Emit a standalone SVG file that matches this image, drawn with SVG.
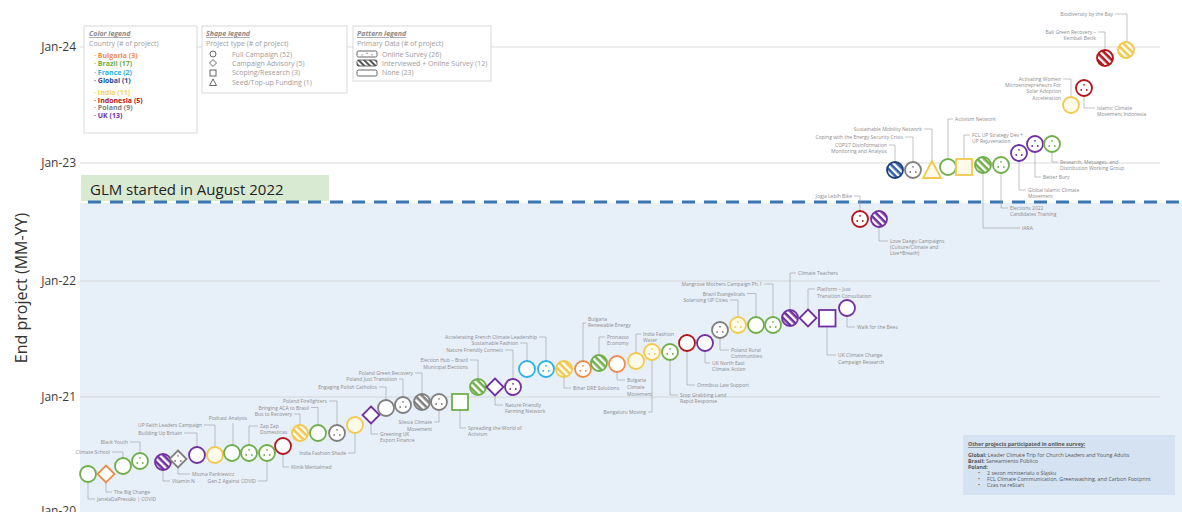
<svg xmlns="http://www.w3.org/2000/svg" xmlns:xlink="http://www.w3.org/1999/xlink" width="1182" height="512" viewBox="0 0 1182 512">
<style>
text{font-family:"Open Sans","Liberation Sans",sans-serif}
.lbl{font-size:5px;fill:#8c8c8c}
.ld{fill:none;stroke:#9a9a9a;stroke-width:0.6}
.grid{stroke:#d2d2d2;stroke-width:0.8}
.axis{font-size:12px;fill:#3c3c3c;text-anchor:end}
.s{fill:#fff;stroke:currentColor;stroke-width:1.8}
.br{color:#6fae4a}.bg{color:#ef8c4b}.fr{color:#2bb3e6}.gl{color:#1d3e78}
.in{color:#f2c94c}.id{color:#b3151d}.pl{color:#7f7f7f}.uk{color:#7030a0}
.in .s{fill:#fffbea}
.st-br{fill:url(#st-br)!important}.st-gl{fill:url(#st-gl)!important}.st-in{fill:url(#st-in)!important}
.st-id{fill:url(#st-id)!important}.st-pl{fill:url(#st-pl)!important}.st-uk{fill:url(#st-uk)!important}
.lgbox{fill:#fff;stroke:#cfcfcf;stroke-width:0.8}
.lgt{font-size:7px;fill:#8a8a8a;font-style:italic;font-weight:bold;text-decoration:underline}
.lgs{font-size:7px;fill:#9c9c9c}
.lgc{font-size:7px;font-weight:bold}
.ico{fill:#fff;stroke:#555;stroke-width:0.9}
.oth{font-size:5.3px;fill:#555}
</style>
<defs>
<g id="dots" fill="currentColor"><circle cx="0" cy="-3.2" r="0.9"/><circle cx="-2.8" cy="2" r="0.9"/><circle cx="2.8" cy="2" r="0.9"/></g>
<path id="dia" d="M0,-8.5L8.5,0L0,8.5L-8.5,0Z"/>
<pattern id="st-br" width="5" height="5" patternUnits="userSpaceOnUse" patternTransform="rotate(45)"><rect width="5" height="5" fill="#fff"/><rect width="5" height="2.6" fill="#6fae4a"/></pattern>
<pattern id="st-gl" width="5" height="5" patternUnits="userSpaceOnUse" patternTransform="rotate(45)"><rect width="5" height="5" fill="#fff"/><rect width="5" height="2.6" fill="#2f5fa8"/></pattern>
<pattern id="st-in" width="5" height="5" patternUnits="userSpaceOnUse" patternTransform="rotate(45)"><rect width="5" height="5" fill="#fff"/><rect width="5" height="2.6" fill="#f2c94c"/></pattern>
<pattern id="st-id" width="5" height="5" patternUnits="userSpaceOnUse" patternTransform="rotate(45)"><rect width="5" height="5" fill="#fff"/><rect width="5" height="2.6" fill="#b3151d"/></pattern>
<pattern id="st-pl" width="5" height="5" patternUnits="userSpaceOnUse" patternTransform="rotate(45)"><rect width="5" height="5" fill="#fff"/><rect width="5" height="2.6" fill="#7f7f7f"/></pattern>
<pattern id="st-uk" width="5" height="5" patternUnits="userSpaceOnUse" patternTransform="rotate(45)"><rect width="5" height="5" fill="#fff"/><rect width="5" height="2.6" fill="#7030a0"/></pattern>
<pattern id="st-lg" width="4" height="4" patternUnits="userSpaceOnUse" patternTransform="rotate(45)"><rect width="4" height="4" fill="#fff"/><rect width="4" height="2" fill="#555"/></pattern>
</defs>
<rect width="1182" height="512" fill="#fff"/>
<rect x="80" y="203" width="1102" height="309" fill="#e7eff9"/>
<g id="axis">
<line class="grid" x1="80" y1="47" x2="1160" y2="47"/>
<line class="grid" x1="80" y1="163" x2="1160" y2="163"/>
<line class="grid" x1="80" y1="281" x2="1160" y2="281"/>
<line class="grid" x1="80" y1="397" x2="1160" y2="397"/>
<text class="axis" x="76" y="51">Jan-24</text>
<text class="axis" x="76" y="167">Jan-23</text>
<text class="axis" x="76" y="285">Jan-22</text>
<text class="axis" x="76" y="401">Jan-21</text>
<text class="axis" x="76" y="515">Jan-20</text>
<text x="0" y="0" transform="translate(27,288) rotate(-90)" text-anchor="middle" style="font-size:16px;fill:#333">End project (MM-YY)</text>
</g>
<g id="glm">
<rect x="81" y="175" width="248" height="26" fill="#d9ead3"/>
<text x="90" y="195" style="font-size:15px;fill:#222">GLM started in August 2022</text>
<line x1="88" y1="202" x2="1182" y2="202" stroke="#3b76b4" stroke-width="3" stroke-dasharray="13 9"/>
</g>
<g id="color-legend">
<rect class="lgbox" x="84" y="26" width="113" height="107"/>
<text class="lgt" x="89" y="36">Color legend</text>
<text class="lgs" x="89" y="46">Country (# of project)</text>
<g class="lgc">
<text x="94" y="57.5" fill="#ef8c4b">·  Bulgaria (3)</text>
<text x="94" y="65.5" fill="#6fae4a">·  Brazil (17)</text>
<text x="94" y="74.5" fill="#2bb3e6">·  France (2)</text>
<text x="94" y="82.5" fill="#1d4f9a">·  Global (1)</text>
<text x="94" y="94.5" fill="#f5cf5a">·  India (11)</text>
<text x="94" y="102.5" fill="#b3151d">·  Indonesia (5)</text>
<text x="94" y="110" fill="#7f7f7f">·  Poland (9)</text>
<text x="94" y="118" fill="#7030a0">·  UK (13)</text>
</g>
</g>
<g id="shape-legend">
<rect class="lgbox" x="202" y="26" width="145" height="67"/>
<text class="lgt" x="206" y="36">Shape legend</text>
<text class="lgs" x="206" y="46">Project type (# of project)</text>
<circle class="ico" cx="213" cy="54" r="3"/>
<path class="ico" d="M213,59.5L216.5,63L213,66.5L209.5,63Z"/>
<rect class="ico" x="210" y="70" width="6" height="6"/>
<path class="ico" d="M213,79L216.5,85.5L209.5,85.5Z"/>
<text class="lgs" x="232" y="56.5">Full Campaign (52)</text>
<text class="lgs" x="232" y="65.5">Campaign Advisory (5)</text>
<text class="lgs" x="232" y="75">Scoping/Research (3)</text>
<text class="lgs" x="232" y="84.5">Seed/Top-up Funding (1)</text>
</g>
<g id="pattern-legend">
<rect class="lgbox" x="353" y="26" width="138" height="55"/>
<text class="lgt" x="357" y="36">Pattern legend</text>
<text class="lgs" x="357" y="46">Primary Data (# of project)</text>
<rect class="ico" x="357" y="51" width="20" height="6" rx="1.5"/>
<circle cx="362" cy="54.8" r="0.6" fill="#555"/><circle cx="367" cy="53.2" r="0.6" fill="#555"/><circle cx="372" cy="54.8" r="0.6" fill="#555"/>
<rect x="357" y="60" width="20" height="6" rx="1.5" fill="url(#st-lg)" stroke="#555" stroke-width="0.9"/>
<rect class="ico" x="357" y="70" width="20" height="6" rx="1.5"/>
<text class="lgs" x="382" y="56.5">Online Survey (26)</text>
<text class="lgs" x="382" y="65.5">Interviewed + Online Survey (12)</text>
<text class="lgs" x="382" y="75">None (23)</text>
</g>
<g id="connectors" class="ld">
<path d="M88,482V499H95"/>
<path d="M106,482.5V492H112"/>
<path d="M112,452H123V458"/>
<path d="M130,442H140V453"/>
<path d="M163,470V481H170"/>
<path d="M178,467.5V474H190"/>
<path d="M184,433H197V447"/>
<path d="M204,425H215V447"/>
<path d="M233,423V445"/>
<path d="M249,445V426H258"/>
<path d="M258,481H267V461"/>
<path d="M283,454V467H289"/>
<path d="M294,414H300V425"/>
<path d="M311,407.5H318V425"/>
<path d="M329,401H337V425"/>
<path d="M348,453H355V433"/>
<path d="M371,423.5V434H378"/>
<path d="M379,387H386V400"/>
<path d="M399,379H403V397"/>
<path d="M415,373H422V394"/>
<path d="M439,410V422H434"/>
<path d="M460,410V428H466"/>
<path d="M470,360H478V379"/>
<path d="M495,395.5V405H503"/>
<path d="M505,350H513V379"/>
<path d="M520,343H527V361"/>
<path d="M539,337H546V361"/>
<path d="M564,377V388H571"/>
<path d="M583,361V323H586"/>
<path d="M599,355V337H605"/>
<path d="M617,372V380H625"/>
<path d="M636,353V334H641"/>
<path d="M652,360V412H648"/>
<path d="M670,360V395H678"/>
<path d="M687,351V385H695"/>
<path d="M705,351V363H710"/>
<path d="M720,338V350H729"/>
<path d="M730,300H738V317"/>
<path d="M747,293.5H756V317"/>
<path d="M764,284H773V317"/>
<path d="M790,310V273H796"/>
<path d="M808,309.5V289H815"/>
<path d="M827,326.5V355H836"/>
<path d="M847,316V327H855"/>
<path d="M854,196H860V211"/>
<path d="M879,227V241H888"/>
<path d="M889,145H895V162"/>
<path d="M905,137H913V162"/>
<path d="M924,129H932V161"/>
<path d="M948,159V119H953"/>
<path d="M964,159V135H970"/>
<path d="M983,173V228H1020"/>
<path d="M1001,173V208H1008"/>
<path d="M1019,161V190H1026"/>
<path d="M1035,152V177H1041"/>
<path d="M1052,152V162H1058"/>
<path d="M1063,79H1071V97"/>
<path d="M1084,96V108H1095"/>
<path d="M1098,32H1105V50"/>
<path d="M1115,14H1127V42"/>
</g>
<g id="nodes">
<g id="n01" class="br"><circle class="s" cx="88" cy="474" r="8"/><text class="lbl" x="97" y="501">JanelaDaPressão | COVID</text></g>
<g id="n02" class="bg"><use href="#dia" class="s" x="106" y="474"/><text class="lbl" x="114" y="494">The Big Change</text></g>
<g id="n03" class="br"><circle class="s" cx="123" cy="466" r="8"/><text class="lbl" x="110" y="454" text-anchor="end">Climate School</text></g>
<g id="n04" class="br"><circle class="s" cx="140" cy="461" r="8"/><use href="#dots" x="140" y="461"/><text class="lbl" x="128" y="444" text-anchor="end">Black Youth</text></g>
<g id="n05" class="uk"><circle class="s st-uk" cx="163" cy="462" r="8"/><text class="lbl" x="172" y="483">Vitamin N</text></g>
<g id="n06" class="pl"><use href="#dia" class="s" x="178" y="459"/><use href="#dots" x="178" y="459"/><text class="lbl" x="192" y="476">Mozna Pankiewicz</text></g>
<g id="n07" class="uk"><circle class="s" cx="197" cy="455" r="8"/><text class="lbl" x="182" y="435" text-anchor="end">Building Up Britain</text></g>
<g id="n08" class="in"><circle class="s" cx="215" cy="455" r="8"/><text class="lbl" x="202" y="427" text-anchor="end">UP Faith Leaders Campaign</text></g>
<g id="n09" class="br"><circle class="s" cx="232" cy="453" r="8"/><text class="lbl" x="228" y="420" text-anchor="middle">Podcast Analysis</text></g>
<g id="n10" class="br"><circle class="s" cx="249" cy="453" r="8"/><use href="#dots" x="249" y="453"/><text class="lbl" x="260" y="428">Zap Zap</text><text class="lbl" x="260" y="434">Domesticas</text></g>
<g id="n11" class="br"><circle class="s" cx="267" cy="453" r="8"/><use href="#dots" x="267" y="453"/><text class="lbl" x="256" y="483" text-anchor="end">Gen Z Against COVID</text></g>
<g id="n12" class="id"><circle class="s" cx="283" cy="446" r="8"/><text class="lbl" x="291" y="469">Klinik Mentalmed</text></g>
<g id="n13" class="in"><circle class="s st-in" cx="300" cy="433" r="8"/><text class="lbl" x="292" y="416" text-anchor="end">Bus to Recovery</text></g>
<g id="n14" class="br"><circle class="s" cx="318" cy="433" r="8"/><text class="lbl" x="309" y="409.5" text-anchor="end">Bringing ACA to Brasil</text></g>
<g id="n15" class="pl"><circle class="s" cx="337" cy="433" r="8"/><use href="#dots" x="337" y="433"/><text class="lbl" x="327" y="403" text-anchor="end">Poland Firefighters</text></g>
<g id="n16" class="in"><circle class="s" cx="355" cy="425" r="8"/><text class="lbl" x="346" y="455" text-anchor="end">India Fashion Shade</text></g>
<g id="n17" class="uk"><use href="#dia" class="s" x="371" y="415"/><text class="lbl" x="380" y="436">Greening UK</text><text class="lbl" x="380" y="442">Export Finance</text></g>
<g id="n18" class="pl"><circle class="s" cx="386" cy="408" r="8"/><text class="lbl" x="377" y="389" text-anchor="end">Engaging Polish Catholics</text></g>
<g id="n19" class="pl"><circle class="s" cx="403" cy="405" r="8"/><use href="#dots" x="403" y="405"/><text class="lbl" x="397" y="381" text-anchor="end">Poland Just Transition</text></g>
<g id="n20" class="pl"><circle class="s st-pl" cx="422" cy="402" r="8"/><text class="lbl" x="413" y="375" text-anchor="end">Poland Green Recovery</text></g>
<g id="n21" class="pl"><circle class="s" cx="439" cy="402" r="8"/><use href="#dots" x="439" y="402"/><text class="lbl" x="432" y="424" text-anchor="end">Silesia Climate</text><text class="lbl" x="432" y="431" text-anchor="end">Movement</text></g>
<g id="n22" class="br"><rect class="s" x="452" y="394" width="16" height="16"/><text class="lbl" x="468" y="430">Spreading the World of</text><text class="lbl" x="468" y="436">Activism</text></g>
<g id="n23" class="br"><circle class="s st-br" cx="478" cy="387" r="8"/><text class="lbl" x="468" y="362" text-anchor="end">Election Hub – Brazil</text><text class="lbl" x="468" y="369" text-anchor="end">Municipal Elections</text></g>
<g id="n24" class="uk"><use href="#dia" class="s" x="495" y="387"/><text class="lbl" x="505" y="407">Nature Friendly</text><text class="lbl" x="505" y="413">Farming Network</text></g>
<g id="n25" class="uk"><circle class="s" cx="513" cy="387" r="8"/><use href="#dots" x="513" y="387"/><text class="lbl" x="503" y="352" text-anchor="end">Nature Friendly Connect</text></g>
<g id="n26" class="fr"><circle class="s" cx="527" cy="369" r="8"/><text class="lbl" x="518" y="345" text-anchor="end">Sustainable Fashion</text></g>
<g id="n27" class="fr"><circle class="s" cx="546" cy="369" r="8"/><use href="#dots" x="546" y="369"/><text class="lbl" x="537" y="339" text-anchor="end">Accelerating French Climate Leadership</text></g>
<g id="n28" class="in"><circle class="s st-in" cx="564" cy="369" r="8"/><text class="lbl" x="573" y="390">Bihar DRE Solutions</text></g>
<g id="n29" class="bg"><circle class="s" cx="583" cy="369" r="8"/><use href="#dots" x="583" y="369"/><text class="lbl" x="588" y="321">Bulgaria</text><text class="lbl" x="588" y="327">Renewable Energy</text></g>
<g id="n30" class="br"><circle class="s st-br" cx="599" cy="363" r="8"/><text class="lbl" x="607" y="339">Pronasso</text><text class="lbl" x="607" y="345">Economy</text></g>
<g id="n31" class="bg"><circle class="s" cx="617" cy="364" r="8"/><text class="lbl" x="627" y="382">Bulgaria</text><text class="lbl" x="627" y="389">Climate</text><text class="lbl" x="627" y="396">Movement</text></g>
<g id="n32" class="in"><circle class="s" cx="636" cy="361" r="8"/><text class="lbl" x="643" y="336">India Fashion</text><text class="lbl" x="643" y="342">Water</text></g>
<g id="n33" class="in"><circle class="s" cx="652" cy="352" r="8"/><use href="#dots" x="652" y="352"/><text class="lbl" x="646" y="414" text-anchor="end">Bengaluru Moving</text></g>
<g id="n34" class="br"><circle class="s" cx="670" cy="352" r="8"/><use href="#dots" x="670" y="352"/><text class="lbl" x="680" y="397">Stop Grabbing Land</text><text class="lbl" x="680" y="403">Rapid Response</text></g>
<g id="n35" class="id"><circle class="s" cx="687" cy="343" r="8"/><text class="lbl" x="697" y="387">Omnibus Law Support</text></g>
<g id="n36" class="uk"><circle class="s" cx="705" cy="343" r="8"/><text class="lbl" x="712" y="365">UK North East</text><text class="lbl" x="712" y="371">Climate Action</text></g>
<g id="n37" class="pl"><circle class="s" cx="720" cy="330" r="8"/><use href="#dots" x="720" y="330"/><text class="lbl" x="731" y="352">Poland Rural</text><text class="lbl" x="731" y="358">Communities</text></g>
<g id="n38" class="in"><circle class="s" cx="738" cy="325" r="8"/><use href="#dots" x="738" y="325"/><text class="lbl" x="728" y="302" text-anchor="end">Solarising UP Cities</text></g>
<g id="n39" class="br"><circle class="s" cx="756" cy="325" r="8"/><text class="lbl" x="745" y="295.5" text-anchor="end">Brazil Evangelicals</text></g>
<g id="n40" class="br"><circle class="s" cx="773" cy="325" r="8"/><use href="#dots" x="773" y="325"/><text class="lbl" x="762" y="286" text-anchor="end">Mangrove Mothers Campaign Ph.1</text></g>
<g id="n41" class="uk"><circle class="s st-uk" cx="790" cy="318" r="8"/><text class="lbl" x="798" y="275">Climate Teachers</text></g>
<g id="n42" class="uk"><use href="#dia" class="s" x="808" y="318"/><text class="lbl" x="817" y="291">Platform – Just</text><text class="lbl" x="817" y="298">Transition Consultation</text></g>
<g id="n43" class="uk"><rect class="s" x="819" y="310" width="16.5" height="16.5"/><text class="lbl" x="838" y="357">UK Climate Change</text><text class="lbl" x="838" y="364">Campaign Research</text></g>
<g id="n44" class="uk"><circle class="s" cx="847" cy="308" r="8"/><text class="lbl" x="857" y="329">Walk for the Bees</text></g>
<g id="n45" class="id"><circle class="s" cx="860" cy="219" r="8"/><use href="#dots" x="860" y="219"/><text class="lbl" x="852" y="198" text-anchor="end">Jogja Lebih Bike</text></g>
<g id="n46" class="uk"><circle class="s st-uk" cx="879" cy="219" r="8"/><text class="lbl" x="890" y="243">Love Daegu Campaigns</text><text class="lbl" x="890" y="249">(Culture/Climate and</text><text class="lbl" x="890" y="255">Live+Breath)</text></g>
<g id="n47" class="gl"><circle class="s st-gl" cx="895" cy="170" r="8"/><text class="lbl" x="887" y="147" text-anchor="end">COP27 Disinformation</text><text class="lbl" x="887" y="153" text-anchor="end">Monitoring and Analysis</text></g>
<g id="n48" class="pl"><circle class="s" cx="913" cy="170" r="8"/><use href="#dots" x="913" y="170"/><text class="lbl" x="903" y="139" text-anchor="end">Coping with the Energy Security Crisis</text></g>
<g id="n49" class="in"><path class="s" d="M932,161L941,178L923,178Z"/><text class="lbl" x="922" y="131" text-anchor="end">Sustainable Mobility Network</text></g>
<g id="n50" class="br"><circle class="s" cx="948" cy="167" r="8"/><text class="lbl" x="955" y="121">Activism Network</text></g>
<g id="n51" class="in"><rect class="s" x="956" y="159" width="16" height="16"/><text class="lbl" x="972" y="137">FCL UP Strategy Dev +</text><text class="lbl" x="972" y="143">UP Rejuvenation</text></g>
<g id="n52" class="br"><circle class="s st-br" cx="983" cy="165" r="8"/><text class="lbl" x="1022" y="230">IARA</text></g>
<g id="n53" class="br"><circle class="s" cx="1001" cy="165" r="8"/><use href="#dots" x="1001" y="165"/><text class="lbl" x="1010" y="210">Elections 2022</text><text class="lbl" x="1010" y="216">Candidates Training</text></g>
<g id="n54" class="uk"><circle class="s" cx="1019" cy="153" r="8"/><use href="#dots" x="1019" y="153"/><text class="lbl" x="1028" y="192">Global Islamic Climate</text><text class="lbl" x="1028" y="198">Movement</text></g>
<g id="n55" class="uk"><circle class="s" cx="1035" cy="144" r="8"/><use href="#dots" x="1035" y="144"/><text class="lbl" x="1043" y="179">Better Bury</text></g>
<g id="n56" class="br"><circle class="s" cx="1052" cy="144" r="8"/><use href="#dots" x="1052" y="144"/><text class="lbl" x="1060" y="164">Research, Messages, and</text><text class="lbl" x="1060" y="170">Distribution Working Group</text></g>
<g id="n57" class="in"><circle class="s" cx="1071" cy="105" r="8"/><text class="lbl" x="1061" y="81" text-anchor="end">Activating Women</text><text class="lbl" x="1061" y="87" text-anchor="end">Microentrepreneurs For</text><text class="lbl" x="1061" y="93" text-anchor="end">Solar Adoption</text><text class="lbl" x="1061" y="100" text-anchor="end">Acceleration</text></g>
<g id="n58" class="id"><circle class="s" cx="1084" cy="88" r="8"/><use href="#dots" x="1084" y="88"/><text class="lbl" x="1097" y="110">Islamic Climate</text><text class="lbl" x="1097" y="116">Movement Indonesia</text></g>
<g id="n59" class="id"><circle class="s st-id" cx="1105" cy="58" r="8"/><text class="lbl" x="1096" y="34" text-anchor="end">Bali Green Recovery –</text><text class="lbl" x="1096" y="40" text-anchor="end">Kembali Becik</text></g>
<g id="n60" class="in"><circle class="s st-in" cx="1126" cy="50" r="8"/><text class="lbl" x="1113" y="16" text-anchor="end">Biodiversity by the Bay</text></g>
</g>
<g id="other-projects">
<rect x="963" y="435" width="212" height="60" fill="#d5e2f1"/>
<text class="oth" x="968" y="446" style="font-weight:bold;text-decoration:underline">Other projects participated in online survey:</text>
<text class="oth" x="968" y="457"><tspan font-weight="bold">Global:</tspan> Leader Climate Trip for Church Leaders and Young Adults</text>
<text class="oth" x="968" y="463"><tspan font-weight="bold">Brasil:</tspan> Saneamiento Público</text>
<text class="oth" x="968" y="469" font-weight="bold">Poland:</text>
<text class="oth" x="978" y="475">•</text><text class="oth" x="987" y="475">2 sezon miniserialu o Śląsku</text>
<text class="oth" x="978" y="481">•</text><text class="oth" x="987" y="481">FCL Climate Communication, Greenwashing, and Carbon Footprint</text>
<text class="oth" x="978" y="487">•</text><text class="oth" x="987" y="487">Czas na reStart</text>
</g>
</svg>
